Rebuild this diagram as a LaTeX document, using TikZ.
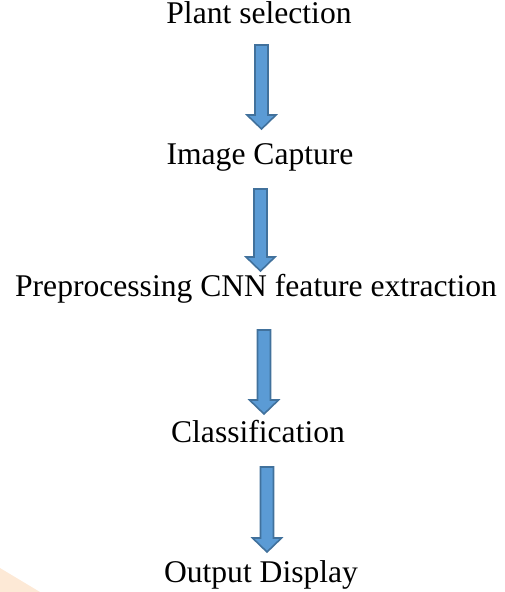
\documentclass[tikz,border=0pt]{standalone}
\usepackage{fontspec}
\setmainfont{Liberation Serif}
\usetikzlibrary{calc}
\definecolor{arrowfill}{HTML}{5B9BD5}
\definecolor{arrowline}{HTML}{41719C}
\definecolor{markfill}{HTML}{FDE9D6}
\tikzset{
	steptext/.style={anchor=base, inner sep=0pt, font=\fontsize{15.8}{19}\selectfont},
	blockarrow/.style={fill=arrowfill, draw=arrowline, line width=0.8pt, line join=miter,
		to path={let \p1=(\tikztostart), \p2=(\tikztotarget) in
			(\x1-3.25pt,\y1) -- (\x1-3.25pt,\y2+7pt) -- (\x1-7.25pt,\y2+7pt) -- (\x1,\y2)
			-- (\x1+7.25pt,\y2+7pt) -- (\x1+3.25pt,\y2+7pt) -- (\x1+3.25pt,\y1) -- cycle}}
}
\begin{document}
\begin{tikzpicture}[x=0.5pt,y=-0.5pt]
		\useasboundingbox (0,0) rectangle (504,592);
		% faint mark in the corner
		\fill[markfill] (0,568) -- (40,592) -- (0,592) -- cycle;
		% steps
		\node[steptext] (plant) at (259,24) {Plant selection};
		\node[steptext] (capture) at (260,165) {Image Capture};
		\node[steptext] (preproc) at (256,297) {Preprocessing CNN feature extraction};
		\node[steptext] (classif) at (258,442) {Classification};
		\node[steptext] (output) at (261,582) {Output Display};
		% arrow ends
		\coordinate (a1) at (261.5,45);  \coordinate (b1) at (261.5,129);
		\coordinate (a2) at (260.5,189); \coordinate (b2) at (260.5,271);
		\coordinate (a3) at (264,330);   \coordinate (b3) at (264,414);
		\coordinate (a4) at (267,467);   \coordinate (b4) at (267,552);
		\draw[blockarrow] (a1) to (b1);
		\draw[blockarrow] (a2) to (b2);
		\draw[blockarrow] (a3) to (b3);
		\draw[blockarrow] (a4) to (b4);
	\end{tikzpicture}
\end{document}
